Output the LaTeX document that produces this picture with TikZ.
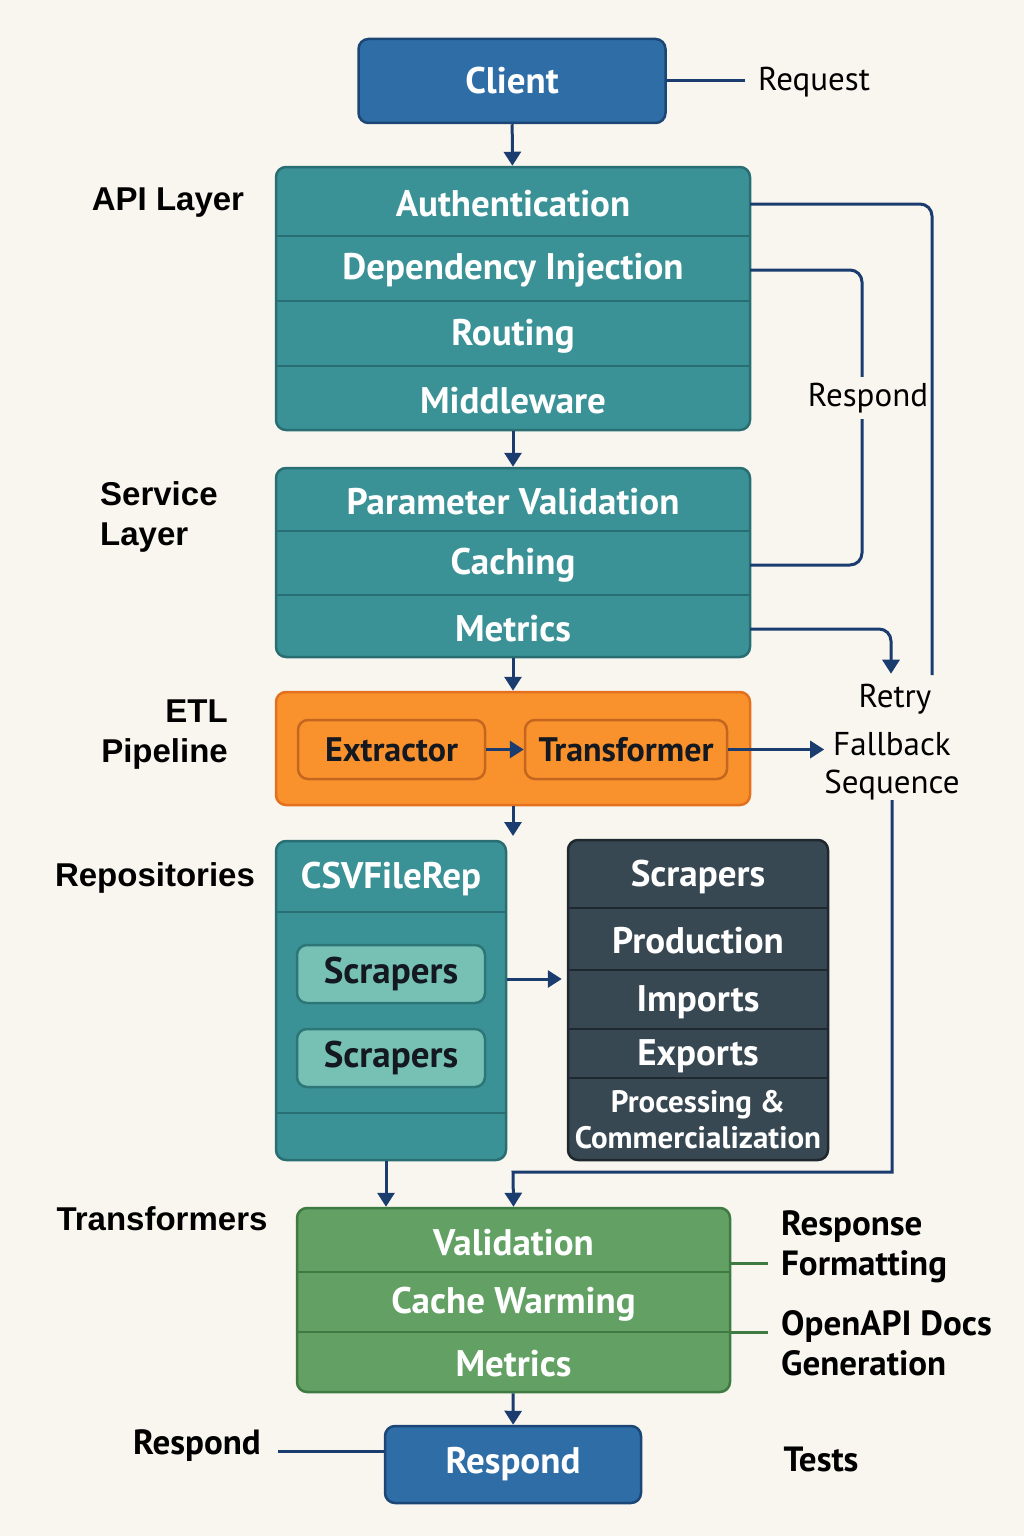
\documentclass[tikz,border=0pt]{standalone}
\usepackage{fontspec}
\setmainfont{PT Sans}
\newfontfamily\grotesk{Liberation Sans}
\usetikzlibrary{arrows.meta,calc}

\definecolor{bgcream}{RGB}{249,246,240}
\definecolor{clientblue}{RGB}{47,109,166}
\definecolor{clientedge}{RGB}{27,70,118}
\definecolor{tealfill}{RGB}{58,146,150}
\definecolor{tealedge}{RGB}{40,110,114}
\definecolor{orangefill}{RGB}{249,146,44}
\definecolor{orangeedge}{RGB}{226,112,30}
\definecolor{orangeinner}{RGB}{196,102,32}
\definecolor{mintfill}{RGB}{118,192,180}
\definecolor{mintedge}{RGB}{44,118,120}
\definecolor{slatefill}{RGB}{56,72,82}
\definecolor{slateedge}{RGB}{30,40,46}
\definecolor{greenfill}{RGB}{98,160,100}
\definecolor{greenedge}{RGB}{62,122,66}
\definecolor{linkblue}{RGB}{26,60,110}
\definecolor{inktext}{RGB}{20,24,32}

\newcommand\boxfont{\bfseries\fontsize{37}{40}\selectfont}
\newcommand\etlfont{\bfseries\fontsize{34}{40}\selectfont}
\newcommand\lblfont{\fontsize{33}{38}\selectfont}
\newcommand\sidefont{\bfseries\fontsize{35}{40}\selectfont}
\newcommand\leftfont{\grotesk\bfseries\fontsize{33}{40}\selectfont}

\begin{document}
\begin{tikzpicture}[x=1pt,y=-1pt,
  box/.style={rounded corners=10pt, line width=2.5pt, inner sep=0pt},
  row/.style={minimum width=#1, minimum height=60pt, inner sep=0pt, text=white, font=\boxfont},
  row/.default=474pt,
  inbox/.style={box, draw=orangeinner, fill=orangefill, text=inktext, font=\etlfont, minimum height=59pt},
  mint/.style={box, draw=mintedge, fill=mintfill, text=inktext, font=\boxfont, minimum width=188pt, minimum height=58pt},
  sep/.style={line width=2.5pt},
  link/.style={draw=linkblue, line width=3pt},
  arr/.style={link, -{Triangle[width=17pt,length=14pt]}},
  greenline/.style={draw=greenedge, line width=3pt},
  lbl/.style={font=\lblfont, text=black, inner sep=0pt},
  side/.style={font=\sidefont, text=black, inner sep=0pt},
  leftlbl/.style={font=\leftfont, text=black, inner sep=0pt}]

%%%%% START %%%%%
\fill[bgcream] (0,0) rectangle (1024,1536);
\useasboundingbox (0,0) rectangle (1024,1536);

% client
\node[box, draw=clientedge, fill=clientblue, minimum width=307pt, minimum height=84pt, text=white, font=\boxfont] (client) at (512,81) {Client};
\node[lbl, anchor=west] (request) at (758,82) {Request};
\coordinate (reqstub) at (745,81);
\draw[link] (client.east) -- (reqstub);

% api layer
\node[box, draw=tealedge, fill=tealfill, minimum width=474pt, minimum height=263pt] (api) at (513,298.5) {};
\foreach \y in {236,301,366} \draw[sep, tealedge] (277,\y) -- (749,\y);
\node[row] (auth) at (513,204) {Authentication};
\node[row] (dep) at (513,270) {Dependency Injection};
\node[row] (rout) at (513,336) {Routing};
\node[row] (midw) at (513,401) {Middleware};
\node[leftlbl] (apilbl) at (168,203) {API Layer};
\draw[arr] (client) -- (api);

% service layer
\node[box, draw=tealedge, fill=tealfill, minimum width=474pt, minimum height=189pt] (svc) at (513,562.5) {};
\foreach \y in {531,595} \draw[sep, tealedge] (277,\y) -- (749,\y);
\node[row] (parval) at (513,502) {Parameter Validation};
\node[row] (cach) at (513,565) {Caching};
\node[row] (smet) at (513,629) {Metrics};
\node[leftlbl, anchor=west, align=left] (svclbl) at (100,517) {Service\\Layer};
\draw[arr] (api) -- (svc);

% etl pipeline
\node[box, draw=orangeedge, fill=orangefill, minimum width=474pt, minimum height=113pt] (etl) at (513,748.5) {};
\node[inbox, minimum width=187pt] (extr) at (391.5,749.5) {Extractor};
\node[inbox, minimum width=202pt] (trans) at (626,749.5) {Transformer};
\node[leftlbl, anchor=east, align=right] (etllbl) at (228,735) {ETL\\Pipeline};
\draw[arr] (svc) -- (etl);
\draw[arr] (extr) -- (trans);

% right side notes
\node[lbl] (retry) at (895,699) {Retry};
\node[lbl, align=center] (fallback) at (892,766) {Fallback\\Sequence};
\coordinate (authend) at (932,675);
\coordinate (rspturn) at (862,396);
\draw[link, rounded corners=12pt] (auth.east) -| (authend);
\draw[link, rounded corners=12pt] (dep.east) -| (rspturn) |- (cach.east);
\node[lbl, fill=bgcream, inner ysep=6pt] (rsplbl) at (868,398) {Respond};
\draw[arr, rounded corners=12pt] (smet.east) -| ($(retry.north)+(-4,-10)$);
\draw[arr] (trans.east) -- (trans.east -| fallback.west);

% repositories
\coordinate (reptop) at (513,836);
\draw[arr] (etl) -- (reptop);
\node[box, draw=tealedge, fill=tealfill, minimum width=230pt, minimum height=319pt] (csv) at (391,1000.5) {};
\foreach \y in {912,1113} \draw[sep, tealedge] (277,\y) -- (505,\y);
\node[row=230pt] (csvhead) at (391,879) {CSVFileRep};
\node[mint] (scra) at (391,974) {Scrapers};
\node[mint] (scrb) at (391,1058) {Scrapers};
\node[leftlbl] (replbl) at (155,878) {Repositories};

\node[box, draw=slateedge, fill=slatefill, minimum width=260pt, minimum height=320pt] (scrp) at (698,1000) {};
\foreach \y in {908,970,1029,1078} \draw[sep, slateedge] (569,\y) -- (827,\y);
\node[row=260pt] (scrhead) at (698,877) {Scrapers};
\node[row=260pt] (prod) at (698,941) {Production};
\node[row=260pt] (imp) at (698,1002) {Imports};
\node[row=260pt] (exp) at (698,1056) {Exports};
\node[row=260pt, align=center, font=\bfseries\fontsize{31}{36}\selectfont] (proc) at (698,1120) {Processing \&\\Commercialization};
\draw[arr, shorten >=5pt] ($(scra.east -| csv.east)+(0,5)$) -- ($(scra.east -| scrp.west)+(0,5)$);

% transformers
\node[box, draw=greenedge, fill=greenfill, minimum width=433pt, minimum height=184pt] (trf) at (513.5,1300) {};
\foreach \y in {1272,1332} \draw[sep, greenedge] (298,\y) -- (729,\y);
\node[row=433pt] (tval) at (513.5,1243) {Validation};
\node[row=433pt] (tcache) at (513.5,1304) {Cache Warming};
\node[row=433pt] (tmet) at (513.5,1364) {Metrics};
\node[leftlbl] (trflbl) at (162,1219) {Transformers};
\draw[arr] ($(csv.south)+(-5,0)$) -- ($(csv.south |- trf.north)+(-5,0)$);
\coordinate (trfturn) at (513,1172);
\draw[arr] (fallback.south) |- (trfturn) -- (trf.north);

\node[side, anchor=west, align=left] (fmt) at (781,1247) {Response\\Formatting};
\node[side, anchor=west, align=left] (docs) at (781,1343) {OpenAPI Docs\\Generation};
\coordinate (fmtstub) at (768,1263);
\coordinate (docstub) at (768,1332);
\draw[greenline] (trf.east |- fmtstub) -- (fmtstub);
\draw[greenline] (trf.east |- docstub) -- (docstub);

% respond
\node[box, draw=clientedge, fill=clientblue, minimum width=256pt, minimum height=77pt, text=white, font=\boxfont] (resp) at (513,1464.5) {Respond};
\draw[arr] (trf) -- (resp);
\node[side] (resplbl) at (197,1446) {Respond};
\coordinate (respstub) at (278,1451);
\draw[link] (respstub) -- (respstub -| resp.west);
\node[side] (tests) at (821,1459) {Tests};
%%%%% END %%%%%
\end{tikzpicture}
\end{document}
